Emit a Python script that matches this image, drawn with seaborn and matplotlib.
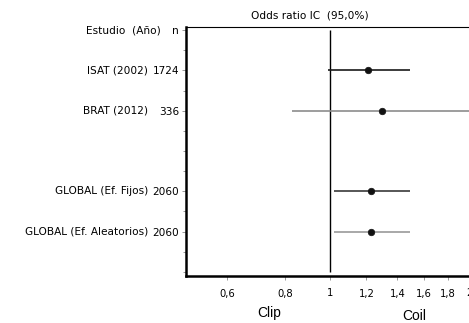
import pandas as pd
import matplotlib.pyplot as plt
import matplotlib.ticker as mticker
import matplotlib.transforms as mtransforms
import seaborn as sns

# datos del forest plot
estudios = ['ISAT (2002)', 'BRAT (2012)', 'GLOBAL (Ef. Fijos)', 'GLOBAL (Ef. Aleatorios)']
n_pacientes = ['1724', '336', '2060', '2060']
filas = [2, 4, 8, 10]
odds_ratio = [1.21, 1.30, 1.23, 1.23]
ic_inf = [0.99, 0.83, 1.02, 1.02]
ic_sup = [1.49, 2.03, 1.49, 1.49]
colores_ic = ['#1a1a1a', '#8c8c8c', '#3a3a3a', '#9a9a9a']
xticks = [0.6, 0.8, 1, 1.2, 1.4, 1.6, 1.8, 2]
xticklabels = ['0,6', '0,8', '1', '1,2', '1,4', '1,6', '1,8', '2']

df = pd.DataFrame({'estudio': estudios, 'n': n_pacientes, 'fila': filas,
                   'or': odds_ratio, 'inf': ic_inf, 'sup': ic_sup})

sns.set_style('white')
plt.rcParams['font.family'] = ['DejaVu Sans']
plt.rcParams['text.color'] = 'black'
plt.rcParams['xtick.labelcolor'] = 'black'
plt.rcParams['ytick.labelcolor'] = 'black'

W, H = 469, 323
fs = 7.6
fig = plt.figure(figsize=(W / 100, H / 100), dpi=100)
ax = fig.add_axes([186 / W, (H - 276) / H, 293 / W, 249 / H])

ax.set_xscale('log')
ax.set_xlim(0.49, 2.1)
ax.set_ylim(12.2, -0.15)

# intervalos de confianza
for i, r in df.iterrows():
    ax.hlines(r['fila'], r['inf'], r['sup'], color=colores_ic[i], lw=1.2, zorder=2)

# línea de no efecto
ax.vlines(1, 0, 12, color='black', lw=1.0, zorder=1)

sns.scatterplot(data=df, x='or', y='fila', ax=ax, color='#111111', s=22,
                edgecolor='#111111', linewidth=0.5, zorder=3, legend=False)

ax.set_xlabel('')
ax.set_ylabel('')

# ejes
ax.xaxis.set_major_locator(mticker.FixedLocator(xticks))
ax.xaxis.set_major_formatter(mticker.FixedFormatter(xticklabels))
ax.xaxis.set_minor_locator(mticker.NullLocator())
ax.tick_params(axis='x', length=3, width=0.6, color='#888888', labelsize=fs - 0.4,
               pad=6, bottom=True)

ax.set_yticks([0] + filas)
ax.set_yticklabels(['n'] + n_pacientes)
ax.set_yticks(range(0, 13), minor=True)
ax.tick_params(axis='y', which='both', length=3, width=0.6, color='#888888',
               labelsize=fs, pad=2, left=True)
ax.tick_params(axis='y', which='minor', length=2)

ax.spines['left'].set_linewidth(1.8)
ax.spines['bottom'].set_linewidth(1.8)
ax.spines['top'].set_linewidth(0.8)
ax.spines['right'].set_visible(False)
for s in ax.spines.values():
    s.set_color('black')

# nombres de estudios
trans = mtransforms.blended_transform_factory(fig.transFigure, ax.transData)
ax.text(161 / W, 0, 'Estudio  (Año)', transform=trans, ha='right', va='center', fontsize=fs)
for est, fila in zip(estudios, filas):
    ax.text(148 / W, fila, est, transform=trans, ha='right', va='center', fontsize=fs)

fig.text(310 / W, 1 - 15 / H, 'Odds ratio IC  (95,0%)', ha='center', va='center', fontsize=fs)
fig.text(269 / W, 1 - 313 / H, 'Clip', ha='center', va='center', fontsize=10,
         family='Liberation Sans')
fig.text(414 / W, 1 - 316 / H, 'Coil', ha='center', va='center', fontsize=10,
         family='Liberation Sans')

fig.savefig('out.png', dpi=100)
